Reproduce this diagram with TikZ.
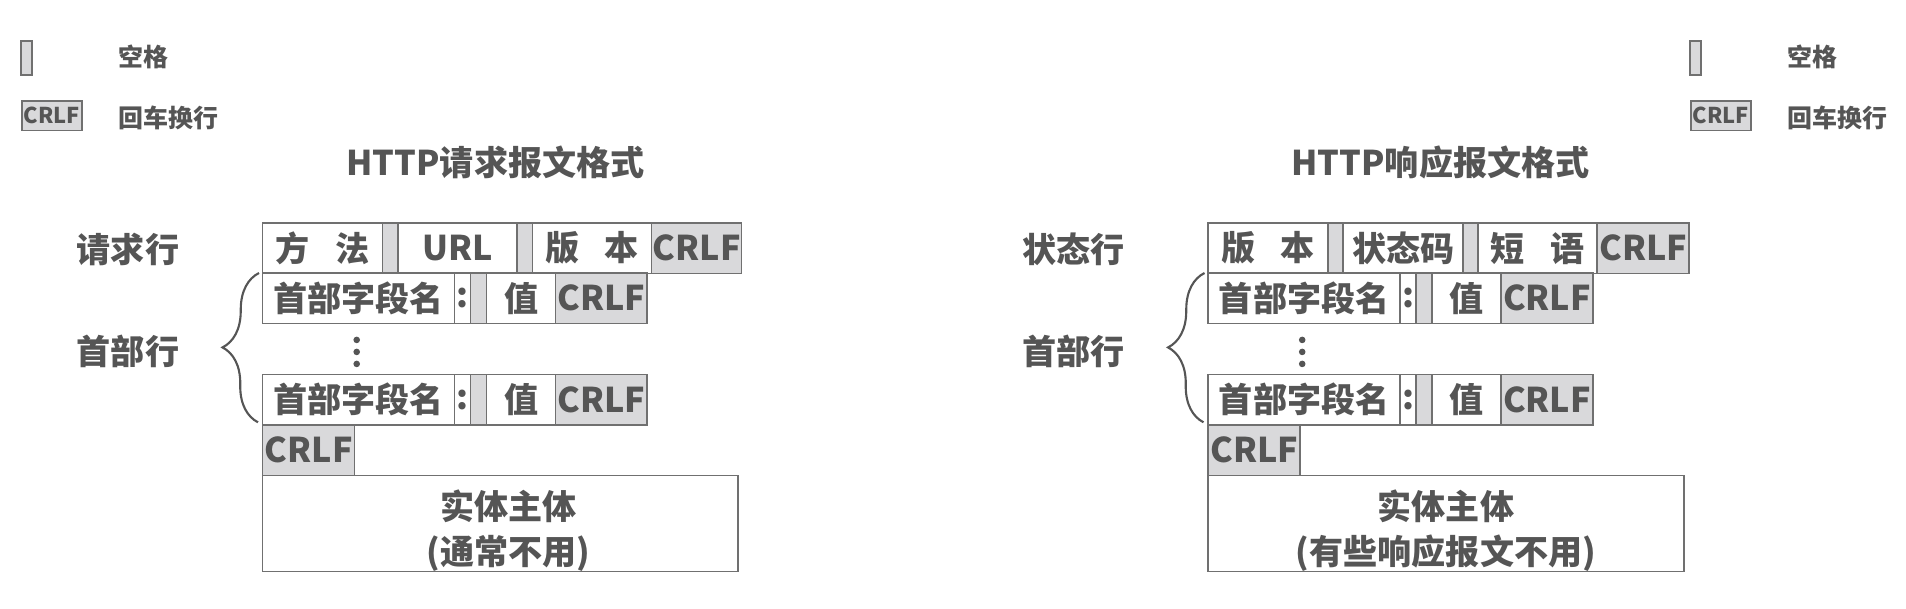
\documentclass[tikz,border=0pt]{standalone}
\usepackage{fontspec}
\setmainfont{Noto Sans CJK SC}
\usetikzlibrary{positioning,calc,decorations.pathreplacing}
\definecolor{txtgray}{RGB}{85,85,85}
\definecolor{boxgray}{RGB}{112,112,112}
\definecolor{fillgray}{RGB}{217,217,219}
\newcommand{\cellfont}{\fontsize{9.7pt}{12pt}\selectfont\bfseries}
\newcommand{\keyfont}{\fontsize{7.1pt}{8.5pt}\selectfont\bfseries}
\newcommand{\keycrfont}{\fontsize{6.2pt}{7.5pt}\selectfont\bfseries}

\begin{document}
\begin{tikzpicture}[x=0.1mm,y=-0.1mm,
  cell/.style={draw=boxgray,fill=white,line width=0.45pt,inner sep=0pt,outer sep=0pt,
    minimum height=5.05mm,text=txtgray,font=\cellfont},
  gapcell/.style={cell,fill=fillgray,minimum width=1.55mm},
  crlfcell/.style={cell,fill=fillgray,minimum width=9.15mm},
  sidelabel/.style={text=txtgray,font=\cellfont,inner sep=0pt},
  legendtext/.style={text=txtgray,font=\keyfont,inner sep=0pt,anchor=west}]
  \useasboundingbox (0,0) rectangle (1906,608);

  % legend (both corners)
  \foreach \lx/\s in {21/l,1690/r} {
    \node[gapcell,minimum width=1.1mm,minimum height=3.4mm,anchor=north west] (sp\s) at (\lx,41) {};
    \node[crlfcell,minimum width=6mm,minimum height=2.95mm,anchor=north west,font=\keycrfont] (cr\s) at (\lx+1,101) {CRLF};
    \node[legendtext] (spt\s) at (\lx+97,57) {空格};
    \node[legendtext] (crt\s) at (\lx+97,118) {回车换行};
  }

  % titles
  \node[sidelabel] (reqtitle) at (495.5,162) {HTTP请求报文格式};
  \node[sidelabel] (resptitle) at (1440.5,162) {HTTP响应报文格式};

  % request line
  \node[sidelabel] (reqlbl) at (128,249) {请求行};
  \node[cell,minimum width=12mm,anchor=north west] (method) at (262.7,223) {方\hspace{0.75em}法};
  \node[gapcell,right=0pt of method] (rsp1) {};
  \node[cell,minimum width=11.9mm,right=0pt of rsp1] (url) {URL};
  \node[gapcell,right=0pt of url] (rsp2) {};
  \node[cell,minimum width=11.9mm,right=0pt of rsp2] (rver) {版\hspace{0.75em}本};
  \node[crlfcell,minimum width=9mm,right=0pt of rver] (rcr) {CRLF};

  % status line
  \node[sidelabel] (statlbl) at (1073.5,249) {状态行};
  \node[cell,minimum width=12mm,anchor=north west] (sver) at (1208.2,223) {版\hspace{0.75em}本};
  \node[gapcell,minimum width=1.5mm,right=0pt of sver] (ssp1) {};
  \node[cell,minimum width=12mm,right=0pt of ssp1] (code) {状态码};
  \node[gapcell,minimum width=1.45mm,right=0pt of code] (ssp2) {};
  \node[cell,minimum width=11.95mm,right=0pt of ssp2] (phrase) {短\hspace{0.75em}语};
  \node[crlfcell,minimum width=9.2mm,right=0pt of phrase] (scr) {CRLF};

  % header lines, blank line, brace and dots
  \foreach \p/\xo in {req/262.7,resp/1208.2} {
    \node[sidelabel] (hdrlbl\p) at (\xo-134.7,351) {首部行};
    \foreach \i/\yo in {1/273,2/374.3} {
      \node[cell,minimum width=19.2mm,anchor=north west] (hname\i\p) at (\xo,\yo) {首部字段名};
      \node[cell,minimum width=1.6mm,right=0pt of hname\i\p] (colon\i\p) {:};
      \node[gapcell,minimum width=1.6mm,right=0pt of colon\i\p] (hsp\i\p) {};
      \node[cell,minimum width=6.9mm,right=0pt of hsp\i\p] (val\i\p) {值};
      \node[crlfcell,right=0pt of val\i\p] (hcr\i\p) {CRLF};
    }
    \node[crlfcell,minimum width=9.2mm,anchor=north west] (endcr\p) at (hname2\p.south west) {CRLF};
    \node[cell,minimum width=47.55mm,minimum height=9.63mm,anchor=north west] (body\p) at (endcr\p.south west) {};
    \draw[txtgray,line width=0.6pt,decorate,decoration={brace,amplitude=3.6mm}]
      ($(hname2\p.south west)+(-4.7,-2.5)$) -- ($(hname1\p.north west)+(-3.7,0)$);
    \foreach \dy in {-12,0,12}
      \fill[txtgray] ($(hname1\p.south)!0.5!(hname2\p.north)+(-2,3+\dy)$) circle (3.3);
  }

  % entity body texts
  \node[sidelabel,align=center] (reqbody) at ($(bodyreq.center)+(8,7)$) {实体主体\\[0.3mm](通常不用)};
  \node[sidelabel,align=center] (respbody) at ($(bodyresp.center)+(0,7)$) {实体主体\\[0.3mm](有些响应报文不用)};
\end{tikzpicture}
\end{document}
